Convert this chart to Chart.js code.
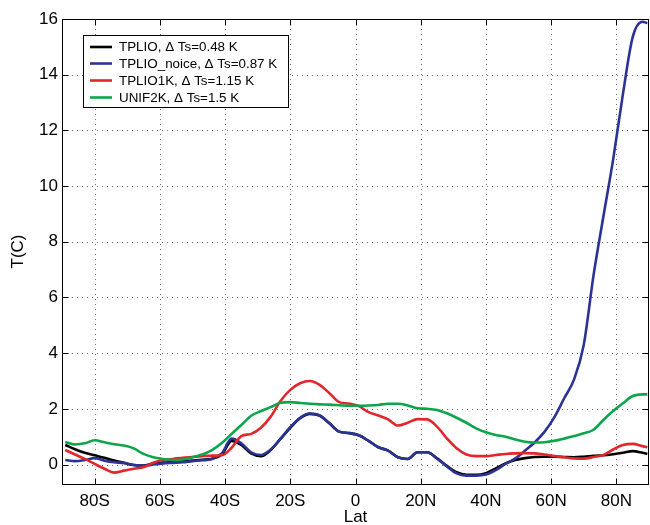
<!DOCTYPE html>
<html><head><meta charset="utf-8">
<script src="https://cdn.jsdelivr.net/npm/chart.js@4/dist/chart.umd.min.js"></script>
<style>html,body{margin:0;padding:0;background:#fff}#wrap{width:650px;height:525px;position:relative}</style>
</head><body><div id="wrap"><canvas id="c" width="650" height="525"></canvas></div>
<script>
const lat = [-89,-86,-83,-80,-77,-74,-71,-68,-65,-62,-59,-56,-53,-50,-47,-44,-41,-38,-35,-32,-29,-26,-23,-20,-17,-14,-11,-8,-5,-2,1,4,7,10,13,16,19,22,25,28,31,34,37,40,43,46,49,52,55,58,61,64,67,70,73,76,79,82,85,88,89.5];
const tplio = [0.70,0.55,0.42,0.33,0.24,0.14,0.06,-0.02,-0.04,0.04,0.07,0.09,0.11,0.14,0.17,0.21,0.36,0.85,0.70,0.40,0.30,0.52,0.92,1.32,1.66,1.82,1.76,1.48,1.18,1.13,1.05,0.85,0.62,0.50,0.26,0.20,0.44,0.44,0.22,-0.05,-0.28,-0.37,-0.37,-0.31,-0.14,0.04,0.16,0.23,0.27,0.28,0.28,0.27,0.26,0.28,0.31,0.33,0.37,0.42,0.48,0.42,0.38];
const tplioNoice = [0.16,0.12,0.16,0.23,0.14,0.08,0.05,-0.02,-0.05,0.00,0.04,0.06,0.08,0.12,0.15,0.20,0.40,0.93,0.76,0.44,0.34,0.54,0.92,1.34,1.68,1.83,1.76,1.48,1.18,1.13,1.05,0.85,0.62,0.50,0.26,0.20,0.44,0.44,0.22,-0.07,-0.32,-0.40,-0.40,-0.36,-0.20,0.02,0.22,0.50,0.80,1.18,1.70,2.38,3.05,4.30,6.80,8.90,10.95,13.30,15.35,15.90,15.85];
const tplio1k = [0.52,0.36,0.20,0.02,-0.15,-0.29,-0.22,-0.15,-0.10,0.06,0.17,0.20,0.24,0.27,0.30,0.32,0.33,0.60,1.02,1.10,1.32,1.72,2.28,2.68,2.92,3.00,2.86,2.56,2.24,2.19,2.10,1.88,1.76,1.62,1.40,1.50,1.63,1.62,1.36,0.94,0.58,0.36,0.30,0.30,0.34,0.38,0.40,0.41,0.40,0.36,0.30,0.26,0.22,0.21,0.27,0.34,0.54,0.70,0.74,0.66,0.62];
const unif2k = [0.81,0.72,0.76,0.87,0.80,0.73,0.68,0.58,0.38,0.26,0.20,0.16,0.18,0.26,0.36,0.52,0.77,1.10,1.42,1.75,1.92,2.06,2.22,2.24,2.21,2.18,2.16,2.15,2.13,2.11,2.11,2.12,2.14,2.18,2.18,2.12,2.02,2.00,1.96,1.84,1.68,1.50,1.30,1.16,1.06,1.00,0.90,0.82,0.79,0.80,0.85,0.93,1.02,1.12,1.25,1.60,1.92,2.20,2.46,2.52,2.52];
const seriesLabels = ['TPLIO, \u0394 Ts=0.48 K','TPLIO_noice, \u0394 Ts=0.87 K','TPLIO1K, \u0394 Ts=1.15 K','UNIF2K, \u0394 Ts=1.5 K'];
const seriesColors = ['#000000','#2b3494','#e3262b','#0ba64c'];
const xTicks = [-80,-60,-40,-20,0,20,40,60,80];
const xTickLabels = ['80S','60S','40S','20S','0','20N','40N','60N','80N'];
const yTicks = [0,2,4,6,8,10,12,14,16];
const xTitle = 'Lat';
const yTitle = 'T(C)';

const FONT = "'Liberation Sans', Arial, Helvetica, sans-serif";
const allSeries = [tplio, tplioNoice, tplio1k, unif2k];
const datasets = allSeries.map((s, i) => ({
  label: seriesLabels[i],
  data: s.map((v, k) => ({x: lat[k], y: v})),
  borderColor: seriesColors[i],
  backgroundColor: seriesColors[i],
  borderWidth: 2.6,
  pointRadius: 0,
  cubicInterpolationMode: 'monotone',
  fill: false,
  order: 4 - i
}));

const frame = {
  id: 'frame',
  beforeDatasetsDraw(chart) {
    const {ctx, chartArea: a, scales: {x, y}} = chart;
    ctx.save();
    ctx.strokeStyle = 'rgba(0,0,0,0.55)';
    ctx.lineWidth = 1;
    ctx.setLineDash([1, 4]);
    xTicks.forEach(v => {
      const px = Math.round(x.getPixelForValue(v)) + 0.5;
      ctx.beginPath(); ctx.moveTo(px, a.top); ctx.lineTo(px, a.bottom); ctx.stroke();
    });
    yTicks.forEach(v => {
      const py = Math.round(y.getPixelForValue(v)) + 0.5;
      ctx.beginPath(); ctx.moveTo(a.left, py); ctx.lineTo(a.right, py); ctx.stroke();
    });
    ctx.restore();
  },
  afterDatasetsDraw(chart) {
    const {ctx, chartArea: a, scales: {x, y}} = chart;
    ctx.save();
    ctx.strokeStyle = '#000';
    ctx.lineWidth = 1;
    ctx.setLineDash([]);
    const L = Math.round(a.left) + 0.5, R = Math.round(a.right) - 0.5;
    const T = Math.round(a.top) + 0.5, B = Math.round(a.bottom) + 0.5;
    ctx.strokeRect(L, T, R - L, B - T);
    const tl = 6;
    xTicks.forEach(v => {
      const px = Math.round(x.getPixelForValue(v)) + 0.5;
      ctx.beginPath(); ctx.moveTo(px, B); ctx.lineTo(px, B - tl); ctx.stroke();
      ctx.beginPath(); ctx.moveTo(px, T); ctx.lineTo(px, T + tl); ctx.stroke();
    });
    yTicks.forEach(v => {
      const py = Math.round(y.getPixelForValue(v)) + 0.5;
      ctx.beginPath(); ctx.moveTo(L, py); ctx.lineTo(L + tl, py); ctx.stroke();
      ctx.beginPath(); ctx.moveTo(R, py); ctx.lineTo(R - tl, py); ctx.stroke();
    });
    // legend
    const bx = 83.5, by = 35.5, bw = 205, bh = 72;
    ctx.fillStyle = '#fff';
    ctx.fillRect(bx, by, bw, bh);
    ctx.strokeRect(bx, by, bw, bh);
    ctx.font = '13.4px ' + FONT;
    ctx.textBaseline = 'middle';
    ctx.textAlign = 'left';
    const rowY = [47, 63.5, 80.5, 97.5];
    chart.data.datasets.forEach((d, i) => {
      ctx.strokeStyle = d.borderColor;
      ctx.lineWidth = 2.6;
      ctx.beginPath(); ctx.moveTo(90, rowY[i]); ctx.lineTo(112, rowY[i]); ctx.stroke();
      ctx.fillStyle = '#000';
      ctx.fillText(d.label, 119, rowY[i] + 0.5);
    });
    ctx.restore();
  }
};

new Chart(document.getElementById('c'), {
  type: 'line',
  data: {datasets},
  options: {
    responsive: false,
    animation: false,
    devicePixelRatio: 1,
    layout: {padding: {left: 0, right: 1, top: 19, bottom: 0}},
    plugins: {legend: {display: false}, tooltip: {enabled: false}},
    scales: {
      x: {
        type: 'linear', min: -90, max: 90,
        afterBuildTicks: s => { s.ticks = xTicks.map(v => ({value: v})); },
        afterFit: s => { s.height = 41; },
        grid: {display: false, drawTicks: false},
        border: {display: false},
        ticks: {
          autoSkip: false, maxRotation: 0, padding: 7,
          color: '#000', font: {family: FONT, size: 17},
          callback: (v) => xTickLabels[xTicks.indexOf(v)]
        },
        title: {display: true, text: xTitle, color: '#000', font: {family: FONT, size: 17}, padding: {top: 0, bottom: -3}}
      },
      y: {
        type: 'linear', min: -0.7, max: 16,
        afterBuildTicks: s => { s.ticks = yTicks.map(v => ({value: v})); },
        afterFit: s => { s.width = 62; },
        grid: {display: false, drawTicks: false},
        border: {display: false},
        ticks: {
          padding: 4, color: '#000', font: {family: FONT, size: 17},
          callback: v => String(v)
        },
        title: {display: true, text: yTitle, color: '#000', font: {family: FONT, size: 17}, padding: {top: 8, bottom: 0}}
      }
    }
  },
  plugins: [frame]
});
</script></body></html>
